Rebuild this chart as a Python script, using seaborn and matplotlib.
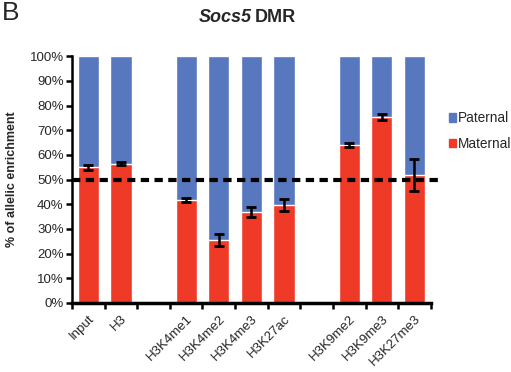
import pandas as pd
import seaborn as sns
import matplotlib.pyplot as plt
from matplotlib.patches import Patch

# Data
marks = ["Input", "H3", "H3K4me1", "H3K4me2", "H3K4me3", "H3K27ac",
         "H3K9me2", "H3K9me3", "H3K27me3"]
maternal = [55.0, 56.5, 41.7, 25.5, 36.8, 39.7, 64.0, 75.3, 51.8]
maternal_err = [1.0, 0.5, 0.7, 2.5, 2.0, 2.5, 1.0, 1.3, 6.5]
order = ["Input", "H3", " ", "H3K4me1", "H3K4me2", "H3K4me3", "H3K27ac",
         "  ", "H3K9me2", "H3K9me3", "H3K27me3"]

blue = "#5777BE"
red = "#EE3A26"

df = pd.DataFrame({"mark": marks, "maternal": maternal, "err": maternal_err})
df["total"] = 100.0

sns.set_style("white")
plt.rcParams["font.family"] = ["Liberation Sans", "DejaVu Sans"]

fig = plt.figure(figsize=(5.11, 3.72), dpi=100)
ax = fig.add_axes([0.141, 0.1855, 0.702, 0.6635])

sns.barplot(data=df, x="mark", y="total", order=order, color=blue,
            width=0.65, saturation=1, ax=ax)
sns.barplot(data=df, x="mark", y="maternal", order=order, color=red,
            width=0.65, saturation=1, ax=ax)

pos = [order.index(m) for m in marks]
ax.errorbar(pos, df["maternal"], yerr=df["err"], fmt="none", ecolor="black",
            elinewidth=1.8, capsize=3.5, capthick=2)

ax.axhline(50, color="black", linestyle=(0, (2.0, 1.3)), linewidth=3.0,
           xmin=0.0, xmax=1.033, clip_on=False, zorder=5)

ax.set_xlim(-0.5, len(order) - 0.5)
ax.set_ylim(0, 100)
ax.set_yticks(range(0, 101, 10))
ax.set_yticklabels([f"{v}%" for v in range(0, 101, 10)], fontsize=9.5)

# boundary ticks on x, labels at bar centres
ax.set_xticks([i - 0.5 for i in range(len(order) + 1)])
ax.set_xticklabels([])
ax.set_xticks(range(len(order)), minor=True)
ax.set_xticklabels([o.strip() for o in order], minor=True, rotation=45,
                   ha="right", rotation_mode="anchor", fontsize=9.5)
ax.tick_params(axis="x", which="minor", length=0, pad=7)
ax.tick_params(axis="both", which="major", direction="out", length=4,
               width=1.8, color="black", bottom=True, left=True)
ax.tick_params(axis="y", pad=2)

for s in ["top", "right"]:
    ax.spines[s].set_visible(False)
ax.spines["left"].set_linewidth(1.8)
ax.spines["bottom"].set_linewidth(2.5)
ax.spines["left"].set_color("black")
ax.spines["bottom"].set_color("black")

ax.set_xlabel("")
ax.set_ylabel("% of allelic enrichment", fontsize=9, fontweight="bold",
              labelpad=8)

handles = [Patch(color=blue, label="Paternal"), Patch(color=red, label="Maternal")]
fig.legend(handles=handles, loc="upper left", bbox_to_anchor=(0.873, 0.708),
           frameon=False, fontsize=9.8, handlelength=0.55, handleheight=0.55,
           handletextpad=0.15, labelspacing=0.85, borderaxespad=0,
           borderpad=0.2)

fig.text(0.492, 0.952, "Socs5", ha="right", va="center", fontsize=13,
         fontweight="bold", fontstyle="italic")
fig.text(0.498, 0.952, "DMR", ha="left", va="center", fontsize=13,
         fontweight="bold")
fig.text(0.003, 0.965, "B", fontsize=19, va="center", ha="left")

fig.savefig("out.png", dpi=100)
